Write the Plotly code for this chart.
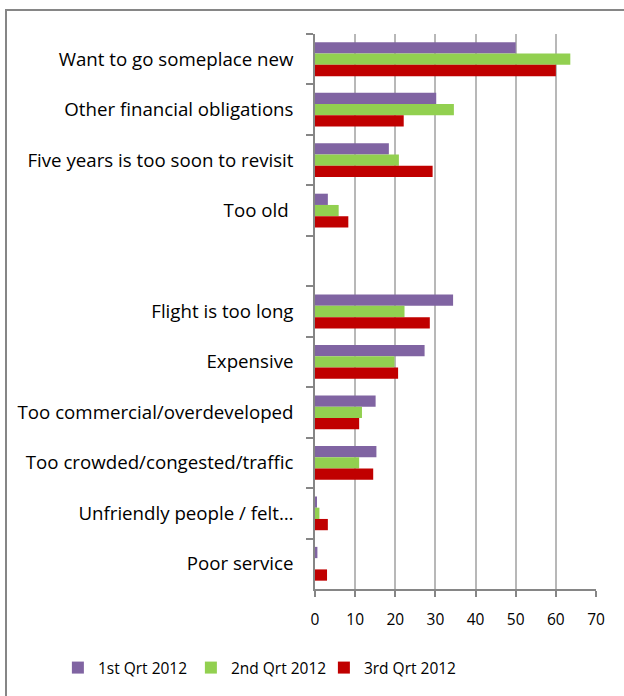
import plotly.graph_objects as go

categories = [
    "Want to go someplace new",
    "Other financial obligations",
    "Five years is too soon to revisit",
    "Too old\u00a0",
    "\u00a0",
    "Flight is too long",
    "Expensive",
    "Too commercial/overdeveloped",
    "Too crowded/congested/traffic",
    "Unfriendly people / felt…",
    "Poor service",
]
q1_2012 = [50.0, 30.2, 18.4, 3.2, None, 34.4, 27.3, 15.1, 15.3, 0.3, 0.6]
q2_2012 = [63.6, 34.6, 20.9, 5.9, None, 22.3, 19.8, 11.7, 11.0, 1.1, 0.0]
q3_2012 = [60.0, 22.1, 29.3, 8.3, None, 28.6, 20.7, 11.0, 14.5, 3.2, 3.0]
series_names = ["1st Qrt 2012", "2nd Qrt 2012", "3rd Qrt 2012"]
x_ticks = [0, 10, 20, 30, 40, 50, 60, 70]

colors = ["#8064A2", "#92D050", "#C00000"]
FONT = "Open Sans"

fig = go.Figure()
for name, vals, col in zip(series_names, [q1_2012, q2_2012, q3_2012], colors):
    fig.add_trace(go.Bar(
        y=categories, x=vals, name=name, orientation="h",
        marker=dict(color=col, line=dict(width=0)),
    ))

fig.update_layout(
    width=624, height=696,
    margin=dict(l=315, r=28, t=34, b=106),
    paper_bgcolor="white", plot_bgcolor="white",
    barmode="group", bargap=0.33, bargroupgap=0,
    font=dict(family=FONT, size=15.5, color="black"),
    showlegend=True,
    legend=dict(orientation="h", x=-0.915, xanchor="left", y=-0.1403, yanchor="middle",
                font=dict(size=15.5), itemclick=False, traceorder="normal",
                entrywidth=88, entrywidthmode="pixels"),
    xaxis=dict(
        range=[0, 70], tickvals=x_ticks, showgrid=True, gridcolor="#b8b8b8", gridwidth=1.5,
        showline=True, linecolor="#868686", linewidth=1.5,
        ticks="outside", ticklen=6, tickcolor="#868686", tickwidth=1.5,
        zeroline=False, fixedrange=True, ticklabelstandoff=10,
        tickfont=dict(size=15.5),
    ),
    yaxis=dict(
        categoryorder="array", categoryarray=categories, autorange="reversed",
        showline=True, linecolor="#868686", linewidth=1.5,
        ticks="outside", ticklen=7, tickcolor="#868686", tickwidth=1.5,
        tickson="boundaries", showgrid=False, ticklabelstandoff=16,
        tickfont=dict(size=18.7), fixedrange=True,
    ),
    shapes=[dict(type="rect", xref="paper", yref="paper",
                 x0=(6 - 315) / 281, x1=(640 - 315) / 281,
                 y0=(590 - 710) / 556, y1=(590 - 10) / 556,
                 line=dict(color="#868686", width=2), fillcolor="rgba(0,0,0,0)", layer="below")],
)

fig.write_html("out.html", config={"displayModeBar": False},
               post_script="document.body.style.margin='0';")
